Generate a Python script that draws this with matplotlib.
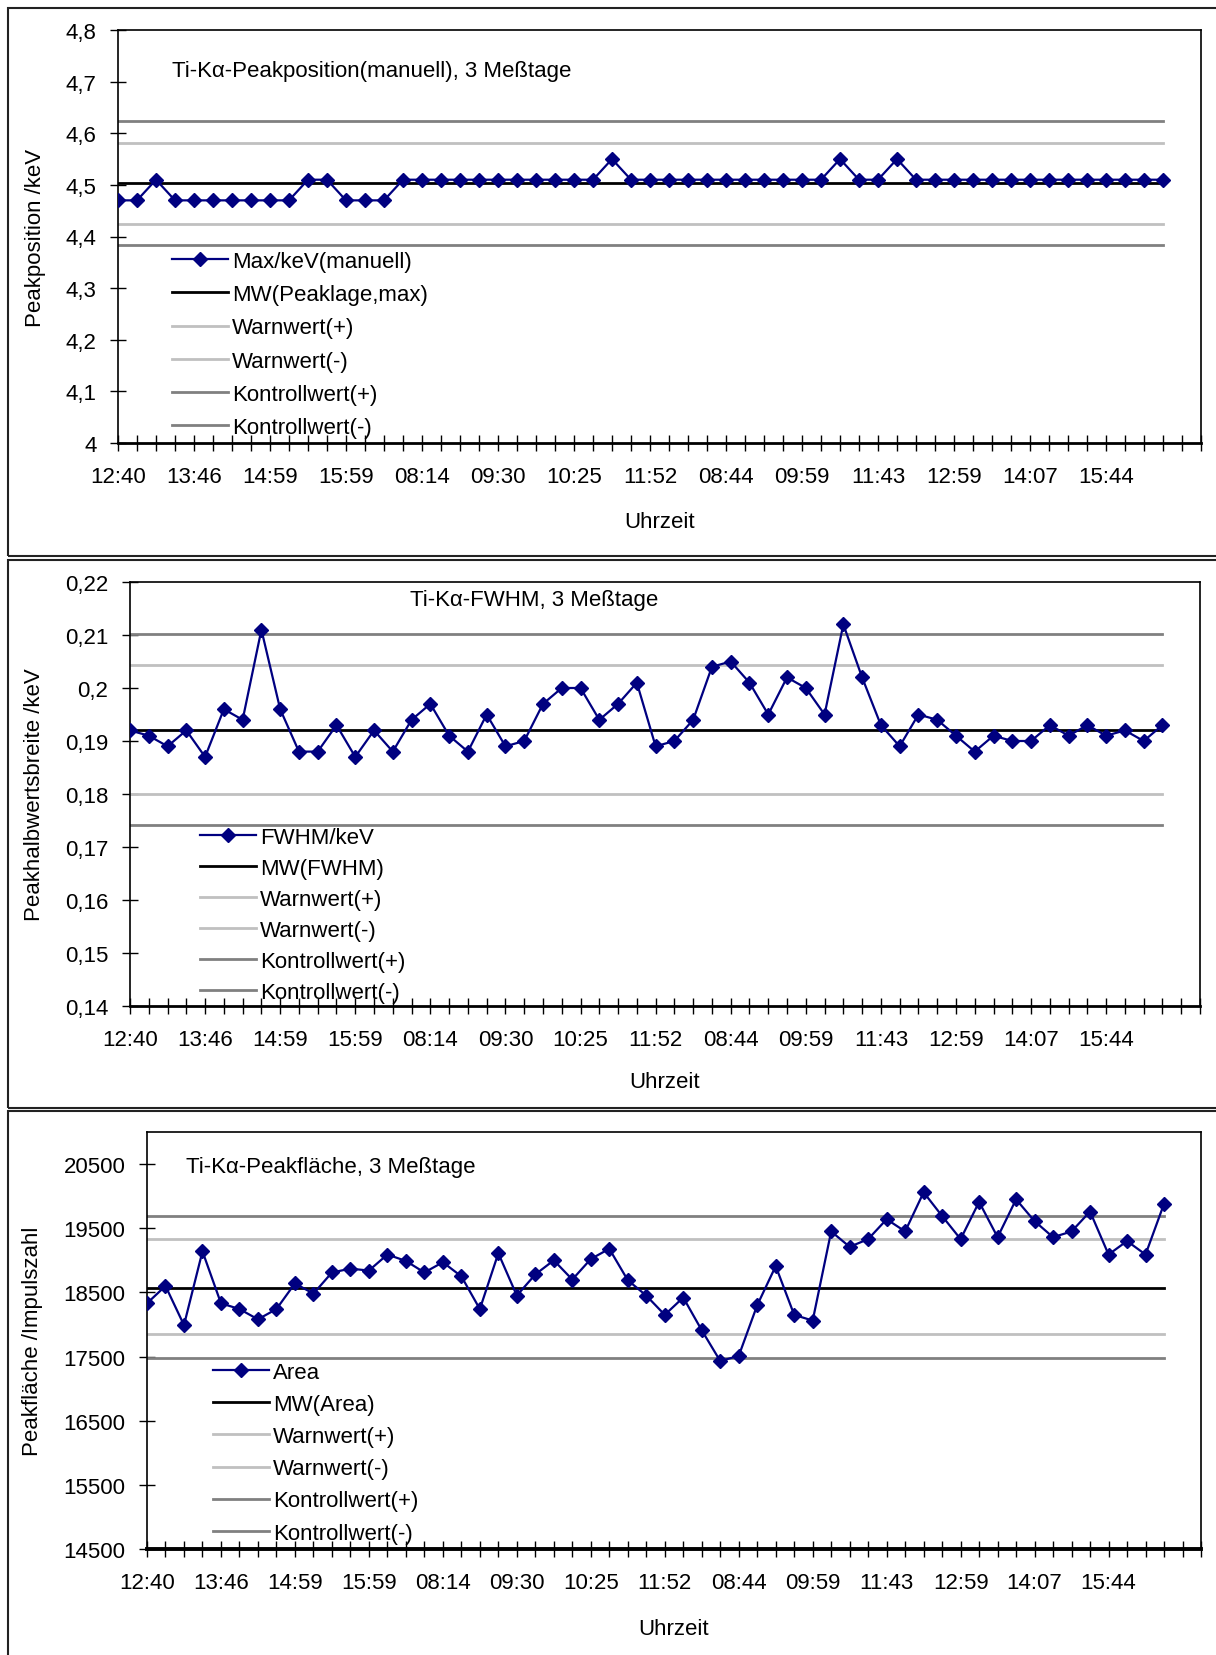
import numpy as np
import matplotlib.pyplot as plt
from matplotlib.patches import Rectangle

plt.rcParams['font.family'] = ['Liberation Sans', 'DejaVu Sans']

# Uhrzeit-Beschriftung (jede 4. Messung)
zeit_labels = ['12:40', '13:46', '14:59', '15:59', '08:14', '09:30', '10:25',
               '11:52', '08:44', '09:59', '11:43', '12:59', '14:07', '15:44']

# Peakposition (manuell) /keV
peak_max = [4.47, 4.47, 4.51, 4.47, 4.47, 4.47, 4.47, 4.47, 4.47, 4.47,
            4.51, 4.51, 4.47, 4.47, 4.47, 4.51, 4.51, 4.51, 4.51, 4.51,
            4.51, 4.51, 4.51, 4.51, 4.51, 4.51, 4.55, 4.51, 4.51, 4.51,
            4.51, 4.51, 4.51, 4.51, 4.51, 4.51, 4.51, 4.51, 4.55, 4.51,
            4.51, 4.55, 4.51, 4.51, 4.51, 4.51, 4.51, 4.51, 4.51, 4.51,
            4.51, 4.51, 4.51, 4.51, 4.51, 4.51]
peak_mw = 4.503
peak_warn = (4.581, 4.425)
peak_kontr = (4.623, 4.384)

# FWHM /keV
fwhm = [0.192, 0.191, 0.189, 0.192, 0.187, 0.196, 0.194, 0.211, 0.196, 0.188,
        0.188, 0.193, 0.187, 0.192, 0.188, 0.194, 0.197, 0.191, 0.188, 0.195,
        0.189, 0.190, 0.197, 0.200, 0.200, 0.194, 0.197, 0.201, 0.189, 0.190,
        0.194, 0.204, 0.205, 0.201, 0.195, 0.202, 0.200, 0.195, 0.212, 0.202,
        0.193, 0.189, 0.195, 0.194, 0.191, 0.188, 0.191, 0.190, 0.190, 0.193,
        0.191, 0.193, 0.191, 0.192, 0.190, 0.193]
fwhm_mw = 0.1921
fwhm_warn = (0.2043, 0.1800)
fwhm_kontr = (0.2101, 0.1742)

# Peakfläche /Impulszahl
area = [18330, 18600, 17990, 19140, 18330, 18240, 18080, 18240, 18640, 18480,
        18810, 18870, 18840, 19090, 18990, 18810, 18970, 18750, 18240, 19110,
        18450, 18780, 19000, 18700, 19020, 19180, 18690, 18450, 18150, 18420,
        17910, 17430, 17510, 18300, 18910, 18150, 18060, 19450, 19210, 19330,
        19640, 19450, 20060, 19690, 19330, 19910, 19360, 19950, 19610, 19360,
        19450, 19760, 19090, 19300, 19090, 19880]
area_mw = 18568
area_warn = (19327, 17845)
area_kontr = (19688, 17484)

# Achsenbeschriftungen
peak_yticks = [4.0, 4.1, 4.2, 4.3, 4.4, 4.5, 4.6, 4.7, 4.8]
peak_ylabels = ['4', '4,1', '4,2', '4,3', '4,4', '4,5', '4,6', '4,7', '4,8']
fwhm_yticks = [0.14, 0.15, 0.16, 0.17, 0.18, 0.19, 0.20, 0.21, 0.22]
fwhm_ylabels = ['0,14', '0,15', '0,16', '0,17', '0,18', '0,19', '0,2', '0,21', '0,22']
area_yticks = [14500, 15500, 16500, 17500, 18500, 19500, 20500]
area_ylabels = ['14500', '15500', '16500', '17500', '18500', '19500', '20500']

W, H = 1216, 1656
FS = 16
fig = plt.figure(figsize=(W / 100, H / 100), dpi=100)


def fx(px):
    return px / W


def fy(py):
    return 1 - py / H


def panel(box, y, name, mw_name, mw, warn, kontr, ylim, yticks, ylabels,
          ylabel, ylabel_x, title, title_xy, leg_xy, leg_space):
    left, top, right, bottom = box
    ax = fig.add_axes([fx(left), fy(bottom), fx(right - left), (bottom - top) / H])
    n = len(y)
    x = np.arange(n)

    ax.plot(x, y, color='#000080', lw=1.6, marker='D', ms=7, zorder=5, label=name)
    ax.plot(x, [mw] * n, color='black', lw=2, zorder=4, label=mw_name)
    ax.plot(x, [warn[0]] * n, color='#c0c0c0', lw=2, label='Warnwert(+)')
    ax.plot(x, [warn[1]] * n, color='#c0c0c0', lw=2, label='Warnwert(-)')
    ax.plot(x, [kontr[0]] * n, color='#808080', lw=2, label='Kontrollwert(+)')
    ax.plot(x, [kontr[1]] * n, color='#808080', lw=2, label='Kontrollwert(-)')

    ax.set_xlim(0, 57)
    ax.set_ylim(*ylim)
    ax.set_yticks(yticks)
    ax.set_yticklabels(ylabels)
    ax.set_xticks(np.arange(58))
    labs = [''] * 58
    for i, t in enumerate(zeit_labels):
        labs[i * 4] = t
    ax.set_xticklabels(labs)

    ax.tick_params(axis='both', direction='inout', length=11, width=1,
                   labelsize=FS, colors='black')
    ax.tick_params(axis='y', pad=10)
    ax.tick_params(axis='x', pad=11)
    for s in ax.spines.values():
        s.set_linewidth(1.2)
    ax.spines['bottom'].set_linewidth(2)

    ax.set_ylabel(ylabel, fontsize=FS, va='center')
    ax.yaxis.set_label_coords((ylabel_x - left) / (right - left), 0.5)
    ax.set_xlabel('Uhrzeit', fontsize=FS, va='center')
    ax.xaxis.set_label_coords(0.5, -(title_xy[2] - bottom) / (bottom - top))

    fig.text(fx(title_xy[0]), fy(title_xy[1]), title, fontsize=FS, va='center')

    ax.legend(loc='upper left', bbox_to_anchor=(fx(leg_xy[0]), fy(leg_xy[1])),
              bbox_transform=fig.transFigure, frameon=False, fontsize=FS,
              numpoints=1, handlelength=2.5, handletextpad=0.2,
              borderpad=0, borderaxespad=0, labelspacing=leg_space)
    return ax


panel((118, 31, 1201, 444), peak_max, 'Max/keV(manuell)', 'MW(Peaklage,max)',
      peak_mw, peak_warn, peak_kontr, (4.0, 4.8), peak_yticks, peak_ylabels,
      'Peakposition /keV', 36,
      'Ti-K\u03b1-Peakposition(manuell), 3 Meßtage', (172, 71, 522),
      (172, 252), 0.55)

panel((130, 583, 1200, 1007), fwhm, 'FWHM/keV', 'MW(FWHM)',
      fwhm_mw, fwhm_warn, fwhm_kontr, (0.14, 0.22), fwhm_yticks, fwhm_ylabels,
      'Peakhalbwertsbreite /keV', 35,
      'Ti-K\u03b1-FWHM, 3 Meßtage', (410, 601, 1083),
      (200, 828), 0.45)

ax3 = panel((147, 1133, 1201, 1550), area, 'Area', 'MW(Area)',
            area_mw, area_warn, area_kontr, (14500, 21000), area_yticks, area_ylabels,
            'Peakfläche /Impulszahl', 33,
            'Ti-K\u03b1-Peakfläche, 3 Meßtage', (186, 1167, 1630),
            (213, 1363), 0.50)
ax3.spines['bottom'].set_linewidth(2.8)

# Rahmen der drei Diagramme
for top, bottom in [(9, 557), (561, 1109), (1112, 1680)]:
    fig.patches.append(Rectangle((fx(8), fy(bottom)), fx(1240 - 8), (bottom - top) / H,
                                 transform=fig.transFigure, fill=False,
                                 edgecolor='#222222', lw=1.5))

fig.savefig('out.png', dpi=100)
plt.close(fig)
